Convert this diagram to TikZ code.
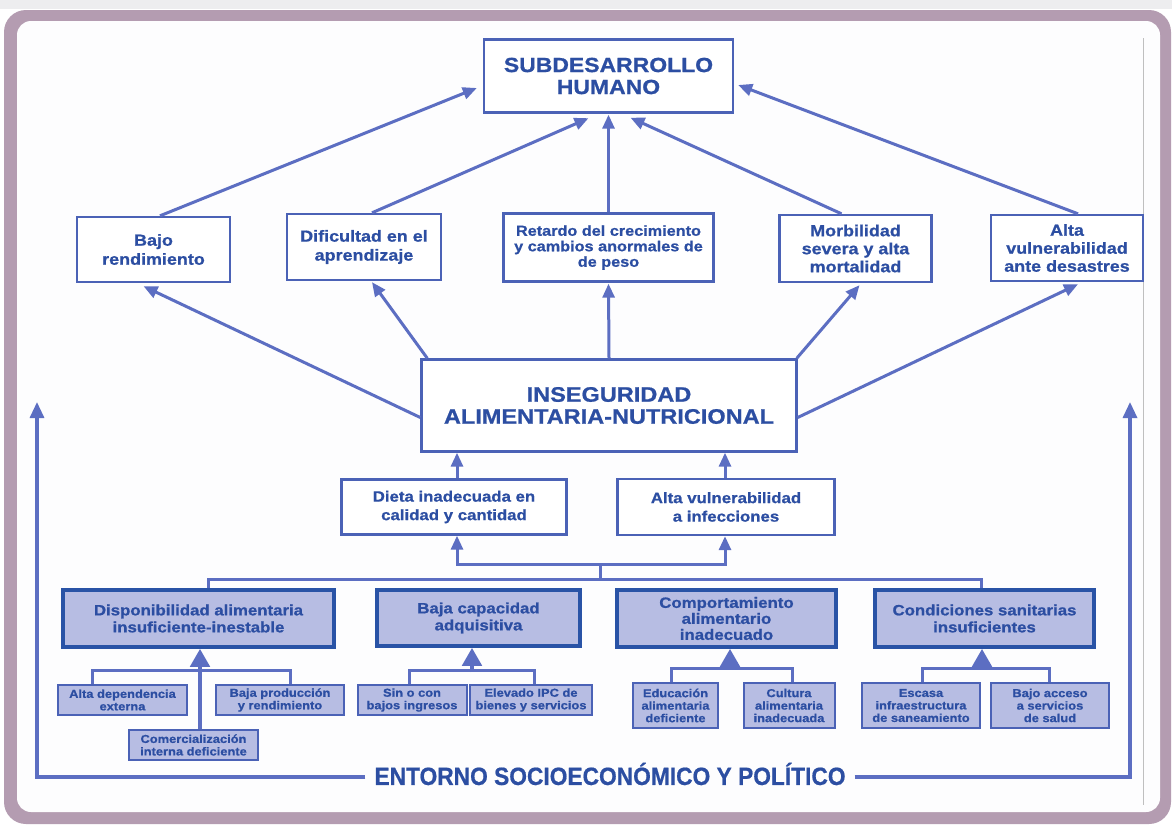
\documentclass[tikz,border=0pt]{standalone}
\usepackage{fontspec}
\setmainfont{Liberation Sans}[FakeStretch=1.12, BoldFeatures={FakeBold=0.8}]
\newfontfamily\entfont{Liberation Sans}[FakeStretch=0.91, BoldFeatures={FakeBold=0.6}]
\usetikzlibrary{arrows.meta}

\definecolor{frameMauve}{HTML}{B49CB1}
\definecolor{stripGray}{HTML}{EDEDEF}
\definecolor{paper}{HTML}{FDFDFE}
\definecolor{inkBlue}{HTML}{2C4EA2}
\definecolor{lineBlue}{HTML}{5C6EC2}
\definecolor{boxEdge}{HTML}{4B62B6}
\definecolor{darkEdge}{HTML}{2953A6}
\definecolor{boxFill}{HTML}{B7BDE3}

\tikzset{
  effbox/.style={draw=boxEdge, line width=2.4pt, fill=white, text=inkBlue, align=center,
    inner sep=0pt, font=\bfseries\fontsize{16}{19}\selectfont},
  mainbox/.style={effbox, font=\bfseries\fontsize{20.5}{22}\selectfont},
  causebox/.style={draw=darkEdge, line width=3.5pt, fill=boxFill, text=inkBlue, align=center,
    inner sep=0pt, font=\bfseries\fontsize{15}{17}\selectfont},
  smallbox/.style={draw=boxEdge, line width=2pt, fill=boxFill, text=inkBlue, align=center,
    inner sep=0pt, font=\bfseries\fontsize{11.5}{12.5}\selectfont},
  arr/.style={lineBlue, line width=3pt, -{Triangle[length=14pt,width=12pt]}},
  bigarr/.style={lineBlue, line width=4.5pt, -{Triangle[length=18pt,width=19pt]}},
  outarr/.style={lineBlue, line width=3.2pt, -{Triangle[length=16pt,width=14pt]}},
  link/.style={lineBlue, line width=3pt},
}

\begin{document}
\begin{tikzpicture}[x=1pt,y=-1pt]
\useasboundingbox (0,0) rectangle (1172,825);
\fill[white] (0,0) rectangle (1172,825);
\fill[stripGray] (0,0) rectangle (1172,9);
\fill[frameMauve, rounded corners=22pt] (4,10) rectangle (1171,824);
\fill[paper, rounded corners=14pt] (17,21) rectangle (1160,812);
\draw[black!25, line width=0.8pt] (1143,38) -- (1143,805);

\node[mainbox, minimum width=249, minimum height=73] (sub) at (608.5,76) {SUBDESARROLLO\\HUMANO};

\node[effbox, minimum width=153, minimum height=65] (bajo) at (153.5,249.5) {Bajo\\rendimiento};
\node[effbox, minimum width=154, minimum height=66] (dific) at (364,247) {Dificultad en el\\aprendizaje};
\node[effbox, font=\bfseries\fontsize{14.5}{15.5}\selectfont, minimum width=210, minimum height=68] (ret) at (608.5,247.5) {Retardo del crecimiento\\y cambios anormales de\\de peso};
\node[effbox, font=\bfseries\fontsize{16}{18}\selectfont, minimum width=152, minimum height=67] (morb) at (855.5,248.5) {Morbilidad\\severa y alta\\mortalidad};
\node[effbox, font=\bfseries\fontsize{16}{18}\selectfont, minimum width=152, minimum height=66] (vuln) at (1067,248) {Alta\\vulnerabilidad\\ante desastres};

\node[mainbox, font=\bfseries\fontsize{21}{22}\selectfont, minimum width=375, minimum height=92] (ins) at (609,405.5) {INSEGURIDAD\\ALIMENTARIA-NUTRICIONAL};

\node[effbox, font=\bfseries\fontsize{15}{18.5}\selectfont, minimum width=225, minimum height=55] (dieta) at (454,507) {Dieta inadecuada en\\calidad y cantidad};
\node[effbox, font=\bfseries\fontsize{15}{18.5}\selectfont, minimum width=217, minimum height=56] (infec) at (726,507) {Alta vulnerabilidad\\a infecciones};

\node[causebox, minimum width=271, minimum height=57] (disp) at (198.5,618.5) {Disponibilidad alimentaria\\insuficiente-inestable};
\node[causebox, minimum width=203, minimum height=56] (baja) at (478.5,618) {Baja capacidad\\adquisitiva};
\node[causebox, font=\bfseries\fontsize{15}{16}\selectfont, minimum width=219, minimum height=57] (comp) at (726.5,618.5) {Comportamiento\\alimentario\\inadecuado};
\node[causebox, minimum width=219, minimum height=57] (cond) at (984.5,618.5) {Condiciones sanitarias\\insuficientes};

\node[smallbox, minimum width=129, minimum height=30] (dep) at (122.5,700) {Alta dependencia\\externa};
\node[smallbox, minimum width=128, minimum height=30] (prod) at (280,700) {Baja producción\\y rendimiento};
\node[smallbox, minimum width=129, minimum height=30] (com) at (193.5,745) {Comercialización\\interna deficiente};
\node[smallbox, minimum width=109, minimum height=30] (ingr) at (412,700) {Sin o con\\bajos ingresos};
\node[smallbox, minimum width=122, minimum height=30] (ipc) at (531,700) {Elevado IPC de\\bienes y servicios};
\node[smallbox, minimum width=85, minimum height=45] (edu) at (675.5,705.5) {Educación\\alimentaria\\deficiente};
\node[smallbox, minimum width=91, minimum height=45] (cult) at (789,705.5) {Cultura\\alimentaria\\inadecuada};
\node[smallbox, minimum width=118, minimum height=45] (esc) at (921,705.5) {Escasa\\infraestructura\\de saneamiento};
\node[smallbox, minimum width=118, minimum height=45] (acc) at (1050,705.5) {Bajo acceso\\a servicios\\de salud};

\node[text=inkBlue, font=\entfont\bfseries\fontsize{25}{26}\selectfont, inner sep=0pt] (ent) at (610,774) {ENTORNO SOCIOECONÓMICO Y POLÍTICO};

\draw[arr] ([xshift=6.5]bajo.north) -- ([xshift=-6,yshift=-12]sub.west);
\draw[arr] ([xshift=8]dific.north) -- ([xshift=-20,yshift=-4.5]sub.south);
\draw[arr] (ret.north) -- ([yshift=-1]sub.south);
\draw[arr] ([xshift=-14]morb.north) -- ([xshift=22,yshift=-4]sub.south);
\draw[arr] ([xshift=11]vuln.north) -- ([xshift=4,yshift=-9]sub.east);

\draw[arr] ([yshift=-12]ins.west) -- ([xshift=-10,yshift=-3]bajo.south);
\draw[arr] ([xshift=7]ins.north west) -- ([xshift=8,yshift=-1]dific.south);
\draw[arr] (ins.north) -- ([yshift=-1]ret.south);
\draw[arr] ([xshift=-1]ins.north east) -- ([xshift=4,yshift=-2]morb.south);
\draw[arr] ([yshift=-12]ins.east) -- ([xshift=11,yshift=-2]vuln.south);

\draw[arr] ([xshift=3]dieta.north) -- ([xshift=3]dieta.north |- ins.south);
\draw[arr] ([xshift=-1]infec.north) -- ([xshift=-1]infec.north |- ins.south);

\coordinate (join) at (600,564);
\coordinate (bus) at (600,579);
\draw[arr] (join) -| ([xshift=3]dieta.south);
\draw[arr] (join) -| ([xshift=-1]infec.south);
\draw[link] (join) -- (bus);
\draw[link] ([xshift=9.5]disp.north) |- (bus) -| ([xshift=-3.5]cond.north);

\draw[link] ([xshift=-30.5]dep.north) -- ++(0,-14) -| ([xshift=10]prod.north);
\draw[bigarr] ([xshift=6.5]com.north) -- ([xshift=1.5]disp.south);

\coordinate (kb) at (472,686);
\draw[link] ([xshift=-2.5]ingr.north) -- ++(0,-14) -| ([xshift=3.5]ipc.north);
\draw[bigarr] ([yshift=14]kb) -- (kb |- baja.south);

\coordinate (kc) at (730,683);
\draw[link] ([xshift=-4.5]edu.north) -- ++(0,-14) -| ([xshift=3]cult.north);
\draw[bigarr] ([yshift=14]kc) -- (kc |- comp.south);

\coordinate (kd) at (982,683);
\draw[link] ([xshift=1.5]esc.north) -- ++(0,-14) -| ([xshift=-1]acc.north);
\draw[bigarr] ([yshift=14]kd) -- (kd |- cond.south);

\coordinate (lt) at (37,402);
\coordinate (rt) at (1130,402);
\draw[outarr] ([xshift=-9,yshift=-3]ent.west) -| (lt);
\draw[outarr] ([xshift=9,yshift=-3]ent.east) -| (rt);

\end{tikzpicture}
\end{document}
